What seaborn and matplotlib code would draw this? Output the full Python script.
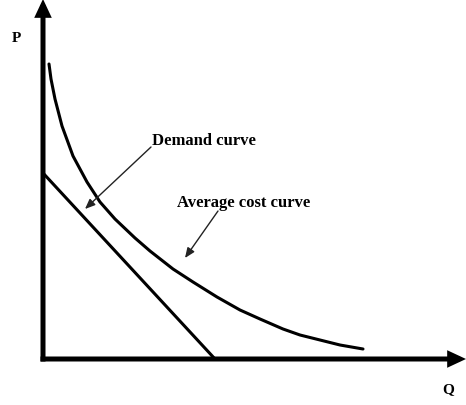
import numpy as np
import pandas as pd
import matplotlib
matplotlib.use('Agg')
import matplotlib.pyplot as plt
import seaborn as sns

# quantity / price (origin at the axes corner)
demand_q = [0, 172]
demand_p = [186, 0]

ac_q = [6, 8, 12, 19, 30, 44, 57, 72, 92, 107, 130, 150, 174, 197, 217, 240, 257, 277, 297, 320]
ac_p = [295, 280, 260, 233, 203, 177, 157, 140, 121, 108, 90, 77, 62, 49, 40, 30, 24, 19, 14, 10]

sns.set_style('white')
plt.rcParams['font.family'] = ['Liberation Serif', 'DejaVu Serif']

fig = plt.figure(figsize=(4.66, 4.06), dpi=100)
ax = fig.add_axes([0, 0, 1, 1])
ax.set_xlim(-43, 423)
ax.set_ylim(-46, 360)
ax.axis('off')

sns.lineplot(x=demand_q, y=demand_p, ax=ax, color='black', linewidth=2.2, sort=False)
sns.lineplot(x=ac_q, y=ac_p, ax=ax, color='black', linewidth=2.2, sort=False)

# axes with arrow heads
ax_arrow = dict(arrowstyle='-|>,head_length=0.75,head_width=0.35', lw=3.6,
                color='black', shrinkA=0, shrinkB=0,
                capstyle='butt', joinstyle='miter')
ax.annotate('', xy=(0, 360), xytext=(0, -2.5), arrowprops=ax_arrow)
ax.annotate('', xy=(423, 0), xytext=(-2.5, 0), arrowprops=ax_arrow)

txt = dict(fontsize=11, fontweight='bold', color='black')
ax.text(-27, 322, 'P', ha='center', va='center', **txt)
ax.text(405, -30, 'Q', ha='center', va='center', **txt)

lab = dict(fontsize=12, fontweight='bold', color='black')
ax.text(109, 219, 'Demand curve', ha='left', va='center', **lab)
ax.text(134, 157, 'Average cost curve', ha='left', va='center', **lab)

lbl_arrow = dict(arrowstyle='-|>,head_length=0.6,head_width=0.25', lw=1,
                 color='#222222', shrinkA=0, shrinkB=0)
ax.annotate('', xy=(42, 150), xytext=(108, 212), arrowprops=lbl_arrow)
ax.annotate('', xy=(142, 101), xytext=(175, 148), arrowprops=lbl_arrow)

fig.savefig('out.png', dpi=100)
